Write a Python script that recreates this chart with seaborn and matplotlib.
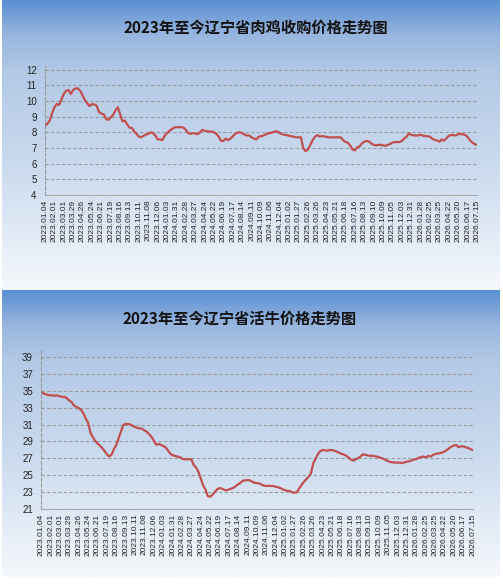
import numpy as np
import pandas as pd
import matplotlib
matplotlib.use("Agg")
import matplotlib.pyplot as plt
import seaborn as sns
from matplotlib.colors import LinearSegmentedColormap

# 横轴日期标签（每4周一个）
tick_labels = [
    "2023.01.04", "2023.02.01", "2023.03.01", "2023.03.29", "2023.04.26", "2023.05.24",
    "2023.06.21", "2023.07.19", "2023.08.16", "2023.09.13", "2023.10.11", "2023.11.08",
    "2023.12.06", "2024.01.03", "2024.01.31", "2024.02.28", "2024.03.27", "2024.04.24",
    "2024.05.22", "2024.06.19", "2024.07.17", "2024.08.14", "2024.09.11", "2024.10.09",
    "2024.11.06", "2024.12.04", "2025.01.02", "2025.01.27", "2025.02.26", "2025.03.26",
    "2025.04.23", "2025.05.21", "2025.06.18", "2025.07.16", "2025.08.13", "2025.09.10",
    "2025.10.09", "2025.11.05", "2025.12.03", "2025.12.31", "2026.01.28", "2026.02.25",
    "2026.03.25", "2026.04.22", "2026.05.20", "2026.06.17", "2026.07.15",
]

# 肉鸡收购价格（周度，元/公斤）
chicken = [
    8.40, 8.55, 8.75, 9.20, 9.60, 9.80, 9.75, 10.10, 10.45, 10.65,
    10.70, 10.45, 10.70, 10.80, 10.80, 10.65, 10.35, 10.05, 9.85, 9.68,
    9.80, 9.78, 9.70, 9.30, 9.20, 9.15, 8.85, 8.80, 8.95, 9.10,
    9.40, 9.60, 9.15, 8.70, 8.75, 8.50, 8.30, 8.28, 8.05, 7.90,
    7.72, 7.68, 7.78, 7.85, 7.90, 8.00, 7.95, 7.80, 7.55, 7.55,
    7.50, 7.80, 7.95, 8.10, 8.20, 8.30, 8.33, 8.33, 8.33, 8.30,
    8.15, 7.95, 7.90, 7.95, 7.92, 7.88, 8.00, 8.15, 8.10, 8.07,
    8.05, 8.05, 8.00, 7.90, 7.72, 7.45, 7.45, 7.60, 7.50, 7.60,
    7.75, 7.90, 7.98, 8.00, 7.95, 7.85, 7.80, 7.80, 7.68, 7.60,
    7.55, 7.72, 7.75, 7.80, 7.85, 7.95, 7.95, 8.00, 8.05, 8.05,
    7.95, 7.88, 7.84, 7.82, 7.78, 7.74, 7.72, 7.68, 7.68, 7.68,
    7.00, 6.80, 6.90, 7.20, 7.50, 7.72, 7.83, 7.72, 7.76, 7.74,
    7.70, 7.68, 7.68, 7.68, 7.68, 7.68, 7.68, 7.50, 7.38, 7.34,
    7.15, 6.90, 6.85, 7.05, 7.10, 7.30, 7.40, 7.45, 7.42, 7.28,
    7.20, 7.17, 7.20, 7.20, 7.17, 7.14, 7.20, 7.25, 7.35, 7.37,
    7.38, 7.38, 7.45, 7.60, 7.72, 7.92, 7.85, 7.80, 7.80, 7.80,
    7.85, 7.78, 7.76, 7.75, 7.72, 7.58, 7.52, 7.48, 7.40, 7.55,
    7.47, 7.62, 7.78, 7.83, 7.82, 7.80, 7.88, 7.90, 7.86, 7.84,
    7.70, 7.50, 7.35, 7.25, 7.20,
]

# 活牛价格（周度，元/公斤）
cattle = [
    34.85, 34.70, 34.60, 34.50, 34.50, 34.45, 34.45, 34.47, 34.35, 34.30,
    34.30, 34.10, 33.85, 33.65, 33.25, 33.10, 32.95, 32.75, 32.30, 31.70,
    31.20, 30.00, 29.50, 29.05, 28.75, 28.50, 28.20, 27.85, 27.45, 27.20,
    27.45, 28.10, 28.60, 29.40, 30.20, 30.95, 31.08, 31.08, 31.00, 30.85,
    30.70, 30.60, 30.56, 30.50, 30.30, 30.15, 29.85, 29.55, 29.10, 28.60,
    28.70, 28.60, 28.45, 28.30, 27.95, 27.55, 27.35, 27.27, 27.20, 27.15,
    26.95, 26.87, 26.87, 26.87, 26.87, 26.20, 25.90, 25.40, 24.60, 23.80,
    23.30, 22.50, 22.43, 22.65, 23.00, 23.30, 23.45, 23.40, 23.25, 23.18,
    23.30, 23.38, 23.50, 23.70, 23.90, 24.10, 24.33, 24.38, 24.40, 24.37,
    24.20, 24.08, 24.05, 24.00, 23.85, 23.75, 23.70, 23.72, 23.70, 23.70,
    23.60, 23.55, 23.45, 23.30, 23.20, 23.12, 23.10, 22.95, 22.90, 22.95,
    23.40, 23.82, 24.20, 24.50, 24.80, 25.20, 26.40, 26.95, 27.50, 27.85,
    27.98, 27.93, 27.90, 27.98, 27.96, 27.90, 27.80, 27.65, 27.52, 27.45,
    27.30, 27.10, 26.85, 26.72, 26.85, 27.00, 27.15, 27.45, 27.42, 27.35,
    27.28, 27.30, 27.25, 27.20, 27.12, 27.02, 26.92, 26.78, 26.63, 26.55,
    26.50, 26.48, 26.48, 26.48, 26.42, 26.52, 26.60, 26.63, 26.75, 26.85,
    26.90, 27.05, 27.15, 27.20, 27.10, 27.27, 27.20, 27.38, 27.50, 27.55,
    27.60, 27.68, 27.80, 27.98, 28.20, 28.40, 28.50, 28.58, 28.30, 28.42,
    28.42, 28.30, 28.22, 28.10, 27.95,
]

W, H = 503, 584

sns.set_theme(style="white")
plt.rcParams['font.family'] = ['Noto Sans CJK SC', 'DejaVu Sans']

fig = plt.figure(figsize=(W / 100, H / 100), dpi=100)
fig.patch.set_facecolor("white")

# 面板背景渐变
bg_cmap = LinearSegmentedColormap.from_list(
    "panel", [(0, "#5a8fd3"), (0.12, "#98b6de"), (0.25, "#b3c9e6"),
              (0.6, "#cddcef"), (1, "#f5f8fc")])


def panel_bg(y0, y1):
    ax = fig.add_axes([2 / W, 1 - y1 / H, 498 / W, (y1 - y0) / H])
    ax.imshow(np.linspace(0, 1, 256).reshape(-1, 1), aspect="auto",
              cmap=bg_cmap, extent=[0, 1, 1, 0])
    ax.axis("off")


def draw(rect, values, ylim, yticks, title, title_xy):
    ax = fig.add_axes(rect)
    ax.set_facecolor("none")
    df = pd.DataFrame({"week": np.arange(len(values)), "price": values})
    sns.lineplot(data=df, x="week", y="price", ax=ax, color="#c0504d",
                 linewidth=1.6)
    ax.set_xlim(0, len(values) - 1)
    ax.set_ylim(*ylim)
    ax.set_yticks(yticks)
    ax.set_yticklabels([str(t) for t in yticks], fontsize=7, color="#222222",
                       family="Liberation Sans")
    ax.set_xticks(range(0, len(values), 4))
    ax.set_xticklabels(tick_labels, rotation=90, fontsize=6, color="#222222",
                       family="Liberation Sans")
    ax.set_xticks(range(len(values)), minor=True)
    ax.tick_params(axis="x", which="major", length=3, direction="inout",
                   color="#999999", pad=2)
    ax.tick_params(axis="x", which="minor", length=2, direction="inout",
                   color="#aaaaaa")
    ax.tick_params(axis="y", length=3, color="#999999", pad=3)
    ax.yaxis.grid(True, linestyle=(0, (3, 2)), color="#9a9a9a", linewidth=0.8)
    ax.xaxis.grid(False)
    ax.set_xlabel("")
    ax.set_ylabel("")
    for s in ["top", "right"]:
        ax.spines[s].set_visible(False)
    ax.spines["left"].set_color("#9a9a9a")
    ax.spines["left"].set_linestyle((0, (3, 2)))
    ax.spines["left"].set_linewidth(0.8)
    ax.spines["bottom"].set_color("#aaaaaa")
    ax.spines["bottom"].set_linewidth(0.8)
    fig.text(title_xy[0] / W, 1 - title_xy[1] / H, title, ha="center",
             va="center", fontsize=11, fontweight="bold", color="#111111")
    return ax


panel_bg(0, 290)
panel_bg(290, 577)

# 肉鸡
draw([45 / W, 1 - 195 / H, 432 / W, (195 - 66.5) / H], chicken, (4, 12.2),
     list(range(4, 13)), "2023年至今辽宁省肉鸡收购价格走势图", (256, 28))

# 活牛
draw([41.3 / W, 1 - 508.7 / H, 431.4 / W, (508.7 - 348.9) / H], cattle, (21, 40),
     list(range(21, 40, 2)), "2023年至今辽宁省活牛价格走势图", (240, 319))

fig.savefig("out.png", dpi=100)
